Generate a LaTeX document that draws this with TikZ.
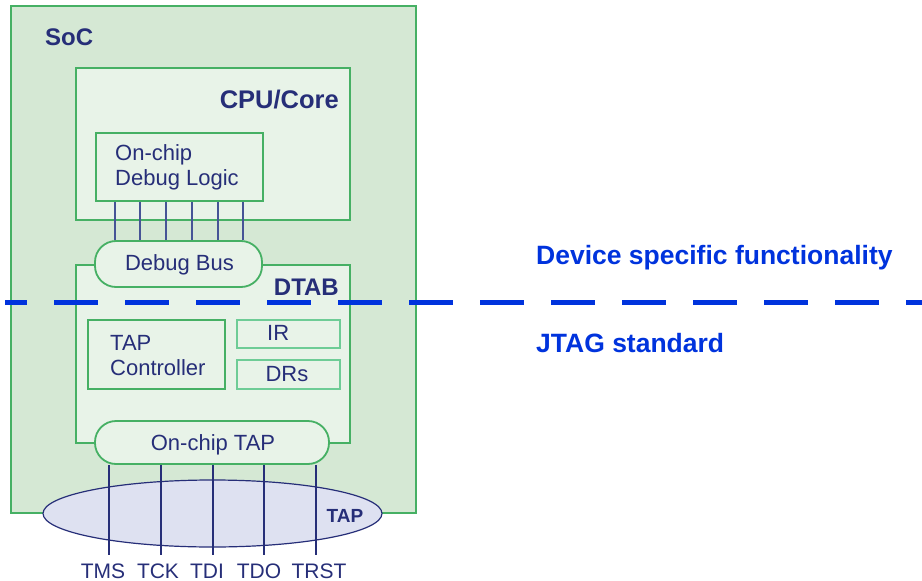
\documentclass[tikz,border=0pt]{standalone}
\usepackage{fontspec}
\setmainfont{Liberation Sans}
\usepackage{tikz}
\usetikzlibrary{positioning, shapes}
\definecolor{socfill}{RGB}{213,232,212}
\definecolor{blkfill}{RGB}{232,243,232}
\definecolor{blkline}{RGB}{70,176,100}
\definecolor{regline}{RGB}{110,204,150}
\definecolor{navy}{RGB}{38,46,120}
\definecolor{busline}{RGB}{70,84,150}
\definecolor{zoneblue}{RGB}{0,51,221}
\definecolor{tapfill}{RGB}{222,225,241}
\tikzset{
    x=1pt, y=-1pt, % one unit is one pixel of the sketch, y runs down
    block/.style={draw=blkline, line width=1.8pt, fill=blkfill, inner sep=0pt, anchor=north west}, % boxes of the chip
    reg/.style={block, draw=regline}, % the two registers
    pill/.style={block, rounded corners=21pt, anchor=center}, % bus and tap ports
    title/.style={text=navy, inner sep=0pt, font=\fontsize{24}{28}\selectfont\bfseries}, % block names
    txt/.style={text=navy, inner sep=0pt, align=left, font=\fontsize{22}{25.5}\selectfont}, % plain labels
    zone/.style={text=zoneblue, inner sep=0pt, font=\fontsize{26.5}{30}\selectfont\bfseries}, % the two regions
    bus/.style={draw=busline, line width=1.8pt}, % debug wires
    signal/.style={draw=navy, line width=2.8pt}, % jtag pins
    divider/.style={draw=zoneblue, line width=4.5pt, dash pattern=on 44pt off 27pt, dash phase=22pt},
}
\begin{document}
\begin{tikzpicture}
    \useasboundingbox (0,0) rectangle (922,581);

    % boxes
    \node[block, fill=socfill, minimum width=405, minimum height=507] (soc) at (10,5) {};
    \node[title, anchor=base west] (socname) at (45,45) {SoC};
    \node[block, minimum width=274, minimum height=152] (cpu) at (75,67) {};
    \node[title, font=\fontsize{25.5}{28}\selectfont\bfseries, anchor=base east] (cpuname) at (339,108) {CPU/Core};
    \node[block, minimum width=167, minimum height=68] (logic) at (95,132) {};
    \node[txt, anchor=west] (logictext) at (115,167.5) {On-chip\\Debug Logic};
    \node[block, minimum width=274, minimum height=178] (dtab) at (75,264) {};
    \node[title, anchor=base east] (dtabname) at (339,295) {DTAB};
    \node[block, minimum width=137, minimum height=69] (ctrl) at (87,319) {};
    \node[txt, anchor=west] (ctrltext) at (110,355.5) {TAP\\Controller};
    \node[reg, minimum width=103, minimum height=28] (ir) at (236,319) {};
    \node[txt, anchor=base west] (irtext) at (267,340) {IR};
    \node[reg, minimum width=103, minimum height=29] (drs) at (236,359) {};
    \node[txt, anchor=base] (drstext) at (287,381) {DRs};

    % ports
    \node[pill, minimum width=167, minimum height=46] (dbus) at (178.5,264) {};
    \node[txt, anchor=base] (dbustext) at (179.5,270) {Debug Bus};
    \node[pill, minimum width=234, minimum height=43] (otap) at (212,442.5) {};
    \node[txt, anchor=base] (otaptext) at (213,450) {On-chip TAP};
    \node[ellipse, draw=navy, line width=1.2pt, fill=tapfill, minimum width=339, minimum height=67, inner sep=0pt] (tap) at (212.5,513.5) {};
    \node[title, font=\fontsize{19}{22}\selectfont\bfseries, anchor=base] (tapname) at (345,522) {TAP};

    % wires
    \foreach \x in {115,140,166,192,218,243}
        \draw[bus] (\x,0 |- logic.south) -- (\x,0 |- dbus.north);
    \foreach \x/\lx/\pin in {109/103/TMS,161/158/TCK,213/207/TDI,264/259/TDO,316/319/TRST} {
        \node[txt, font=\fontsize{21}{25}\selectfont, anchor=base] (\pin) at (\lx,578) {\pin};
        \draw[signal, shorten >=8pt] (\x,0 |- otap.south) -- (\x,0 |- \pin.north);
    }

    % border between the two regions
    \coordinate (divl) at (5,302.5);
    \coordinate (divr) at (922,302.5);
    \draw[divider] (divl) -- (divr);
    \node[zone, anchor=base west] (devzone) at (536,264) {Device specific functionality};
    \node[zone, anchor=base west] (jtagzone) at (536,352) {JTAG standard};
\end{tikzpicture}
\end{document}
